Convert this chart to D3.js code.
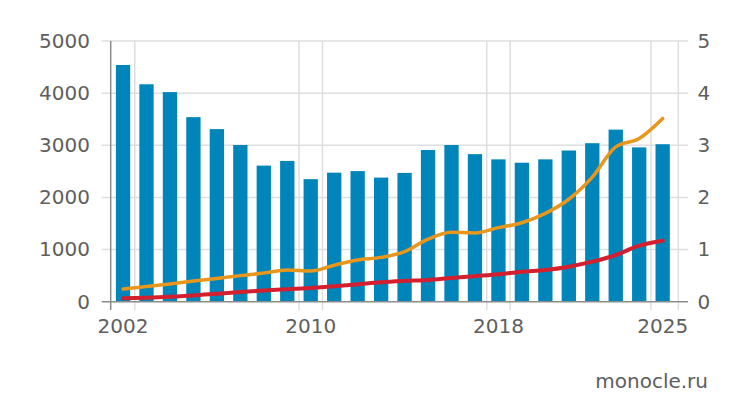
<!DOCTYPE html>
<html>
<head>
<meta charset="utf-8">
<script src="https://cdn.jsdelivr.net/npm/d3@7"></script>
<style>
html,body{margin:0;padding:0;background:#fff;}
svg{display:block;}
text{font-family:"DejaVu Sans",sans-serif;fill:#5e5e5e;}
</style>
</head>
<body>
<svg id="chart" width="747" height="418"></svg>
<script>
const years = d3.range(2002, 2026);
const bars = [4540, 4170, 4020, 3540, 3310, 3005, 2610, 2700, 2350, 2475, 2505, 2380, 2470, 2910, 3005, 2830, 2730, 2665, 2730, 2900, 3040, 3300, 2960, 3020];
const orangeLine = [0.245, 0.29, 0.34, 0.395, 0.445, 0.50, 0.55, 0.61, 0.59, 0.70, 0.80, 0.85, 0.96, 1.20, 1.33, 1.32, 1.42, 1.515, 1.695, 1.965, 2.39, 2.97, 3.13, 3.515];
const redLine = [0.065, 0.077, 0.096, 0.12, 0.153, 0.186, 0.215, 0.237, 0.263, 0.295, 0.333, 0.372, 0.397, 0.416, 0.455, 0.49, 0.525, 0.576, 0.608, 0.672, 0.768, 0.895, 1.074, 1.17];
const leftTicks = [0, 1000, 2000, 3000, 4000, 5000];
const rightTicks = [0, 1, 2, 3, 4, 5];
const xTickYears = [2002, 2010, 2018, 2025];
const source = "monocle.ru";

(function () {
const svg = d3.select("#chart");
const plotLeft = 110.7, plotRight = 678.3, gridRight = 688, tickLeft = 101.7;
const plotTop = 41, plotBottom = 301.7, axisExt = 310;

const x = d3.scaleBand().domain(years).range([111.3, 674.4]).padding(0);
const barW = x.step() * 0.61;
const yL = d3.scaleLinear().domain([0, 5000]).range([plotBottom, plotTop]);
const yR = d3.scaleLinear().domain([0, 5]).range([plotBottom, plotTop]);

const grid = svg.append("g");
grid.selectAll("line.h").data(leftTicks.filter(d => d > 0)).join("line")
  .attr("x1", tickLeft).attr("x2", gridRight)
  .attr("y1", d => yL(d)).attr("y2", d => yL(d))
  .attr("stroke", "#dedede").attr("stroke-width", 1.5);
const vEdges = [];
xTickYears.forEach((yr, i) => {
  const s = x(yr), e = x(yr) + x.step();
  if (s > plotLeft + 2) vEdges.push(s);
  vEdges.push(i === xTickYears.length - 1 ? plotRight : e);
});
grid.selectAll("line.v").data(vEdges).join("line")
  .attr("x1", d => d).attr("x2", d => d)
  .attr("y1", plotTop).attr("y2", axisExt)
  .attr("stroke", "#dedede").attr("stroke-width", 1.5);

svg.append("g").selectAll("rect").data(years).join("rect")
  .attr("x", (d) => x(d) + (x.step() - barW) / 2)
  .attr("width", barW)
  .attr("y", (d, i) => yL(bars[i]))
  .attr("height", (d, i) => plotBottom - yL(bars[i]))
  .attr("fill", "#0085ba");

const lineGen = d3.line()
  .x((d, i) => x(years[i]) + x.step() / 2)
  .y(d => yR(d))
  .curve(d3.curveMonotoneX);
svg.append("path").datum(redLine).attr("d", lineGen)
  .attr("fill", "none").attr("stroke", "#d4202e").attr("stroke-width", 4)
  .attr("stroke-linecap", "round").attr("stroke-linejoin", "round");
svg.append("path").datum(orangeLine).attr("d", lineGen)
  .attr("fill", "none").attr("stroke", "#e8961c").attr("stroke-width", 3.5)
  .attr("stroke-linecap", "round").attr("stroke-linejoin", "round");

svg.append("line").attr("x1", tickLeft).attr("x2", gridRight)
  .attr("y1", plotBottom).attr("y2", plotBottom).attr("stroke", "#8c8c8c").attr("stroke-width", 1.5);
svg.append("line").attr("x1", plotLeft).attr("x2", plotLeft)
  .attr("y1", plotTop).attr("y2", axisExt).attr("stroke", "#8c8c8c").attr("stroke-width", 1.5);

const axL = svg.append("g").attr("transform", `translate(${plotLeft},0)`)
  .call(d3.axisLeft(yL).tickValues(leftTicks).tickSize(0).tickPadding(20.7).tickFormat(d3.format("d")));
axL.select(".domain").remove();
axL.selectAll("text").attr("font-size", 20).attr("font-family", "DejaVu Sans").attr("fill", "#5e5e5e");

const axR = svg.append("g").attr("transform", `translate(${gridRight},0)`)
  .call(d3.axisRight(yR).tickValues(rightTicks).tickSize(0).tickPadding(9.5).tickFormat(d3.format("d")));
axR.select(".domain").remove();
axR.selectAll("text").attr("font-size", 20).attr("font-family", "DejaVu Sans").attr("fill", "#5e5e5e");

const axB = svg.append("g").attr("transform", `translate(0,${plotBottom})`)
  .call(d3.axisBottom(x).tickValues(xTickYears).tickSize(0).tickPadding(17));
axB.select(".domain").remove();
axB.selectAll("text").attr("font-size", 20).attr("font-family", "DejaVu Sans").attr("fill", "#5e5e5e");

svg.append("text").attr("x", 708).attr("y", 388).attr("text-anchor", "end")
  .attr("font-size", 20).text(source);
})();
</script>
</body>
</html>
